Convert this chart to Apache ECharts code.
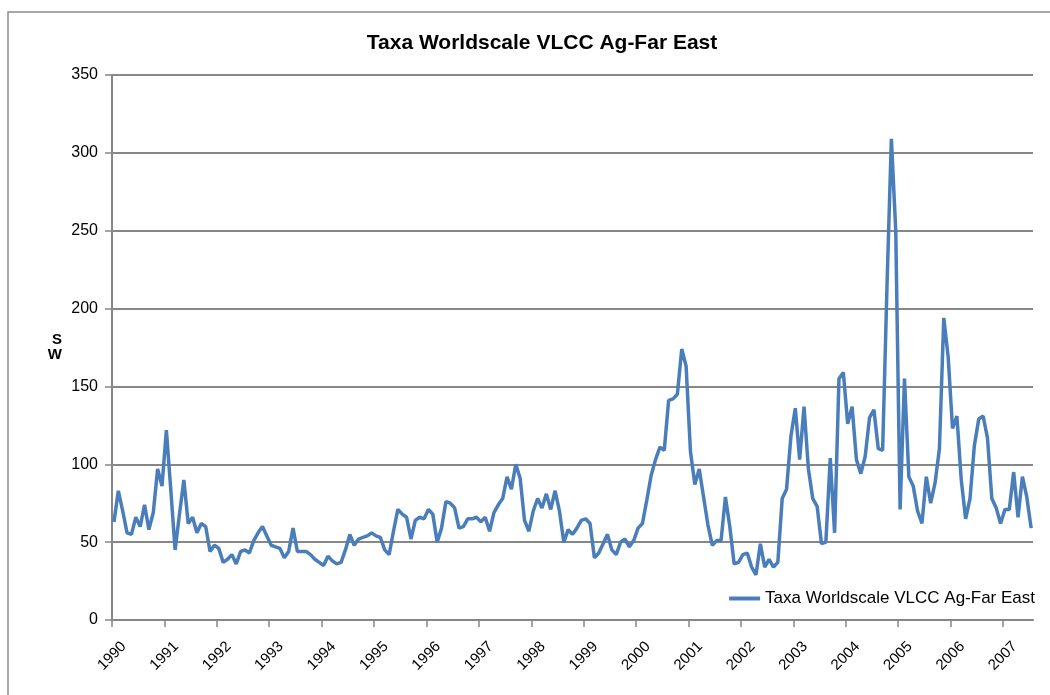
<!DOCTYPE html>
<html>
<head>
<meta charset="utf-8">
<title>Taxa Worldscale VLCC Ag-Far East</title>
<script src="https://cdn.jsdelivr.net/npm/echarts@6/dist/echarts.min.js"></script>
<style>
  html, body { margin: 0; padding: 0; background: #fff; }
  #chart { width: 1050px; height: 695px; }
</style>
</head>
<body>
<div id="chart"></div>
<script>
  let seriesName = 'Taxa Worldscale VLCC Ag-Far East';
  let firstYear = 1990;

  // year tick labels on the x axis
  let years = [1990, 1991, 1992, 1993, 1994, 1995, 1996, 1997, 1998,
    1999, 2000, 2001, 2002, 2003, 2004, 2005, 2006, 2007];

  // monthly WS rate, Jan 1990 .. Jul 2007 (one row per year)
  let worldscale = [
    63, 83, 70, 56, 55, 66, 60, 74, 58, 69, 97, 86,
    122, 84, 45, 68, 90, 62, 66, 56, 62, 60, 44, 48,
    46, 37, 39, 42, 36, 44, 45, 43, 51, 56, 60, 54,
    48, 47, 46, 40, 44, 59, 44, 44, 44, 42, 39, 37,
    35, 41, 38, 36, 37, 45, 55, 48, 52, 53, 54, 56,
    54, 53, 45, 42, 57, 71, 68, 66, 52, 64, 66, 65,
    71, 68, 50, 59, 76, 75, 72, 59, 60, 65, 65, 66,
    63, 66, 57, 69, 74, 78, 92, 84, 100, 91, 64, 57,
    70, 78, 72, 81, 71, 83, 70, 50, 58, 55, 59, 64,
    65, 62, 40, 43, 49, 55, 45, 42, 50, 52, 47, 51,
    59, 62, 77, 93, 103, 111, 109, 141, 142, 145, 174, 163,
    108, 87, 97, 79, 61, 48, 51, 51, 79, 60, 36, 37,
    42, 43, 34, 29, 49, 34, 39, 34, 37, 78, 84, 118,
    136, 103, 137, 97, 78, 73, 49, 50, 104, 56, 155, 159,
    126, 137, 103, 94, 105, 130, 135, 110, 109, 215, 309, 250,
    71, 155, 92, 86, 70, 62, 92, 75, 88, 110, 194, 169,
    123, 131, 90, 65, 78, 112, 129, 131, 117, 78, 72, 62,
    71, 71, 95, 66, 92, 79, 59
  ];

  // each month is plotted around the middle of the month, ticks sit on 1 January
  let points = worldscale.map(function (v, i) {
    return [firstYear + (i + 0.45) / 12, v];
  });

  let fontFamily = '"Liberation Sans", Arial, sans-serif';
  let grey = '#878787';
  let blue = '#4a7ebb';

  let chart = echarts.init(document.getElementById('chart'));
  chart.setOption({
    animation: false,
    backgroundColor: '#fff',
    title: {
      text: seriesName,
      left: 537,
      textAlign: 'center',
      top: 28,
      textStyle: {
        color: '#000',
        fontSize: 21,
        fontWeight: 'bold',
        fontFamily: fontFamily
      }
    },
    legend: {
      data: [{
        name: seriesName,
        icon: 'rect',
        itemStyle: { color: blue }
      }],
      right: 15,
      top: 590,
      padding: 0,
      itemWidth: 31,
      itemHeight: 4,
      textStyle: {
        color: '#000',
        fontSize: 17,
        fontFamily: fontFamily
      }
    },
    grid: {
      left: 112,
      right: 17,
      top: 75,
      bottom: 75
    },
    xAxis: {
      type: 'value',
      min: 1990,
      max: 2007.573,
      splitLine: {
        show: false
      },
      axisLine: {
        lineStyle: {
          color: grey,
          width: 2
        }
      },
      axisTick: {
        show: true,
        length: 7,
        customValues: years,
        lineStyle: {
          color: grey,
          width: 1.5
        }
      },
      axisLabel: {
        customValues: years,
        rotate: 45,
        margin: 36,
        align: 'center',
        verticalAlign: 'middle',
        color: '#000',
        fontSize: 15,
        fontFamily: fontFamily,
        formatter: function (v) {
          return String(v);
        }
      }
    },
    yAxis: {
      type: 'value',
      min: 0,
      max: 350,
      interval: 50,
      name: 'S\nW',
      nameLocation: 'middle',
      nameRotate: 0,
      nameGap: 50,
      nameTextStyle: {
        color: '#000',
        fontSize: 15,
        fontWeight: 'bold',
        lineHeight: 15,
        fontFamily: fontFamily
      },
      axisLine: {
        show: true,
        lineStyle: {
          color: grey,
          width: 2
        }
      },
      axisTick: {
        show: true,
        length: 7,
        lineStyle: {
          color: grey,
          width: 1.5
        }
      },
      splitLine: {
        lineStyle: {
          color: grey,
          width: 2
        }
      },
      axisLabel: {
        margin: 14,
        color: '#000',
        fontSize: 16,
        fontFamily: fontFamily
      }
    },
    graphic: [{
      type: 'rect',
      silent: true,
      shape: { x: 8, y: 12, width: 1100, height: 800 },
      style: { fill: 'none', stroke: '#8a8a8a', lineWidth: 1.5 }
    }],
    series: [{
      name: seriesName,
      type: 'line',
      data: points,
      symbol: 'none',
      z: 5,
      itemStyle: {
        color: blue
      },
      lineStyle: {
        color: blue,
        width: 3.5
      }
    }]
  });
</script>
</body>
</html>
